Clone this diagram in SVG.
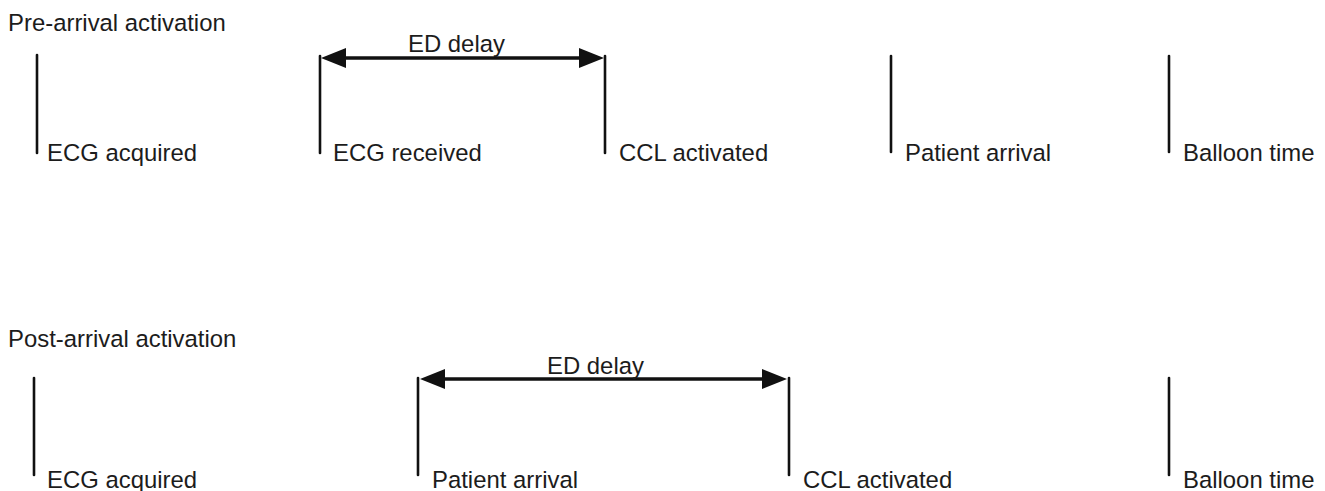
<svg xmlns="http://www.w3.org/2000/svg" width="1325" height="491" viewBox="0 0 1325 491">
<style>
  text { font-family: "Liberation Sans", Arial, sans-serif; font-size: 23.9px; fill: #1c1c1c; }
  .tick { stroke: #111; stroke-width: 2.6; stroke-linecap: round; }
  .span { stroke: #111; stroke-width: 3.4; }
</style>
<defs>
  <marker id="ah" viewBox="0 0 25 20" refX="16" refY="10" markerWidth="25" markerHeight="20" markerUnits="userSpaceOnUse" orient="auto-start-reverse">
    <path d="M0,0 L25,10 L0,20 Z" fill="#111"/>
  </marker>
</defs>
<rect width="1325" height="491" fill="#fff"/>

<g id="title-pre"><text x="8" y="31">Pre-arrival activation</text></g>
<g id="title-post"><text x="8" y="347">Post-arrival activation</text></g>

<!-- Pre-arrival row -->
<g id="pre-ecg-acquired"><line class="tick" x1="37" y1="55" x2="37" y2="153"/><text x="47" y="161">ECG acquired</text></g>
<g id="pre-ecg-received"><line class="tick" x1="320" y1="56" x2="320" y2="153"/><text x="333" y="161">ECG received</text></g>
<g id="pre-ccl-activated"><line class="tick" x1="605" y1="56" x2="605" y2="153"/><text x="619" y="161">CCL activated</text></g>
<g id="pre-patient-arrival"><line class="tick" x1="891" y1="56" x2="891" y2="152"/><text x="905" y="161">Patient arrival</text></g>
<g id="pre-balloon-time"><line class="tick" x1="1169" y1="56" x2="1169" y2="152"/><text x="1183" y="161">Balloon time</text></g>

<!-- Post-arrival row -->
<g id="post-ecg-acquired"><line class="tick" x1="34" y1="378" x2="34" y2="475"/><text x="47" y="488">ECG acquired</text></g>
<g id="post-patient-arrival"><line class="tick" x1="418" y1="378" x2="418" y2="475"/><text x="432" y="488">Patient arrival</text></g>
<g id="post-ccl-activated"><line class="tick" x1="789" y1="378" x2="789" y2="475"/><text x="803" y="488">CCL activated</text></g>
<g id="post-balloon-time"><line class="tick" x1="1169" y1="378" x2="1169" y2="475"/><text x="1183" y="488">Balloon time</text></g>

<g id="connectors">
  <line class="span" x1="330" y1="58" x2="595" y2="58" marker-start="url(#ah)" marker-end="url(#ah)"/>
  <text x="408" y="52">ED delay</text>
  <line class="span" x1="429" y1="379" x2="778" y2="379" marker-start="url(#ah)" marker-end="url(#ah)"/>
  <text x="547" y="374">ED delay</text>
</g>
</svg>
